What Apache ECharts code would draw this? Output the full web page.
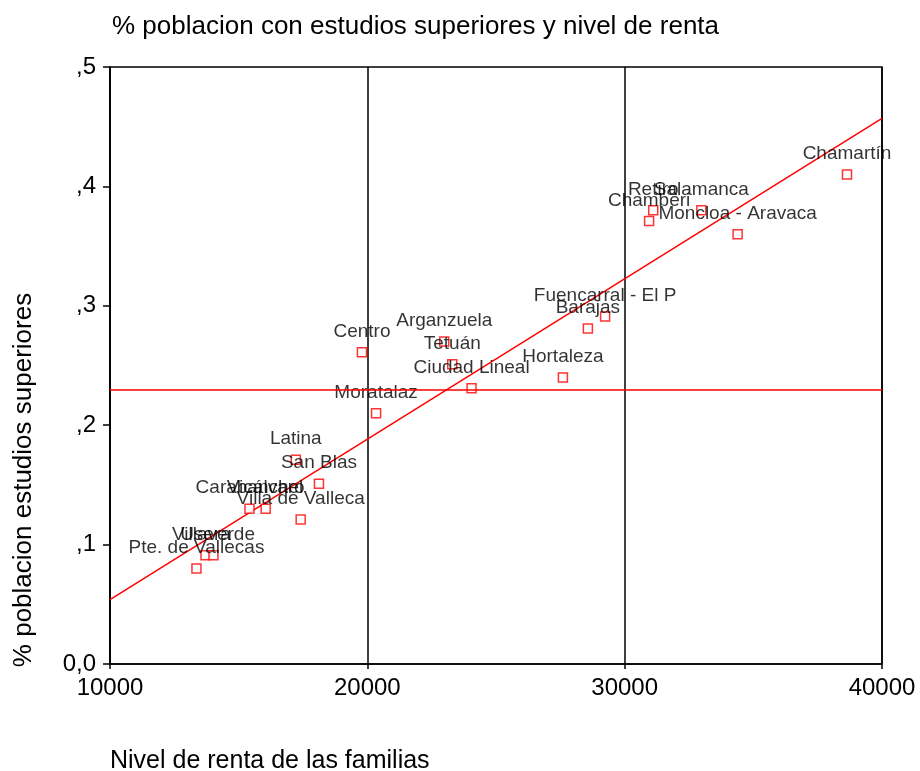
<!DOCTYPE html>
<html>
<head>
    <meta charset="UTF-8">
    <title>renta</title>
    <script src="https://cdn.jsdelivr.net/npm/echarts@6/dist/echarts.min.js"></script>
    <style>
        *{margin:0;padding:0}
        html,body{width:100%;height:100%;background:#fff}
        #main{width:920px;height:771px}
    </style>
</head>
<body>
    <div id="main"></div>

    <script type="text/javascript">
        var FONT = 'Liberation Sans, Arial, sans-serif';

        // distritos de Madrid
        var distritos = ['Chamartín', 'Salamanca', 'Retiro', 'Chamberi', 'Moncloa - Aravaca',
            'Fuencarral - El P', 'Barajas', 'Hortaleza', 'Centro', 'Arganzuela', 'Tetuán',
            'Ciudad Lineal', 'Moratalaz', 'Latina', 'San Blas', 'Carabanchel', 'Vicálvaro',
            'Villa de Valleca', 'Usera', 'Villaverde', 'Pte. de Vallecas'];
        // nivel de renta de las familias
        var renta = [38640, 32980, 31110, 30950, 34390,
            29240, 28570, 27600, 19790, 22990, 23300,
            24050, 20340, 17220, 18120, 15420, 16050,
            17410, 13710, 14020, 13360];
        // % poblacion con estudios superiores
        var estudios = [0.410, 0.380, 0.380, 0.371, 0.360,
            0.291, 0.281, 0.240, 0.261, 0.270, 0.251,
            0.231, 0.210, 0.171, 0.151, 0.130, 0.130,
            0.121, 0.091, 0.091, 0.080];
        // recta de regresion (extremos)
        var ajusteX = [10000, 40000];
        var ajusteY = [0.054, 0.457];

        var puntos = distritos.map(function (d, i) {
            return {name: d, value: [renta[i], estudios[i]]};
        });
        var ajuste = ajusteX.map(function (x, i) { return [x, ajusteY[i]]; });
        // media de estudios superiores (linea horizontal)
        var media = estudios.reduce(function (a, b) { return a + b; }, 0) / estudios.length;

        var myChart = echarts.init(document.getElementById('main'));
        var option = {
            backgroundColor: '#fff',
            animation: false,
            title: {
                text: '% poblacion con estudios superiores y nivel de renta',
                left: 107,
                top: 9,
                textStyle: {fontFamily: FONT, fontSize: 26, fontWeight: 'normal', color: '#000'}
            },
            grid: {
                left: 110, right: 38, top: 67, bottom: 107,
                show: true, borderColor: '#000', borderWidth: 1.5
            },
            xAxis: {
                type: 'value',
                min: 10000, max: 40000, interval: 10000,
                axisLine: {show: true, lineStyle: {color: '#000', width: 1.5}},
                axisTick: {show: true, length: 5, lineStyle: {color: '#000', width: 1.5}},
                axisLabel: {
                    fontFamily: FONT, fontSize: 24, color: '#000', margin: 12,
                    formatter: function (v) { return String(v); }
                },
                splitLine: {show: true, lineStyle: {color: '#000', width: 1.5}}
            },
            yAxis: {
                type: 'value',
                min: 0, max: 0.5, interval: 0.1,
                axisLine: {show: true, lineStyle: {color: '#000', width: 1.5}},
                axisTick: {show: true, length: 7, lineStyle: {color: '#000', width: 1.5}},
                axisLabel: {
                    fontFamily: FONT, fontSize: 24, color: '#000', margin: 14,
                    formatter: function (v) {
                        return v === 0 ? '0,0' : ',' + Math.round(v * 10);
                    }
                },
                splitLine: {show: false}
            },
            graphic: [
                {
                    type: 'text',
                    x: 24, y: 480,
                    rotation: Math.PI / 2,
                    style: {
                        text: '% poblacion estudios superiores',
                        font: '26px ' + FONT,
                        fill: '#000',
                        textAlign: 'center',
                        textVerticalAlign: 'middle'
                    }
                },
                {
                    type: 'text',
                    x: 110, y: 761,
                    style: {
                        text: 'Nivel de renta de las familias',
                        font: '25px ' + FONT,
                        fill: '#000',
                        textAlign: 'left',
                        textVerticalAlign: 'middle'
                    }
                }
            ],
            series: [
                {
                    type: 'line',
                    data: ajuste,
                    showSymbol: false,
                    symbol: 'none',
                    lineStyle: {color: '#ff0000', width: 1.5},
                    z: 2
                },
                {
                    type: 'scatter',
                    data: puntos,
                    symbol: 'rect',
                    symbolSize: 9,
                    itemStyle: {color: '#fff', borderColor: '#ff0000', borderWidth: 1.5},
                    label: {
                        show: true,
                        position: 'top',
                        distance: 6,
                        formatter: '{b}',
                        fontFamily: FONT,
                        fontSize: 19,
                        color: '#000'
                    },
                    markLine: {
                        silent: true,
                        symbol: 'none',
                        label: {show: false},
                        lineStyle: {color: '#ff0000', type: 'solid', width: 1.5},
                        data: [{yAxis: media}]
                    },
                    z: 3
                }
            ]
        };
        myChart.setOption(option);
    </script>
</body>
</html>
